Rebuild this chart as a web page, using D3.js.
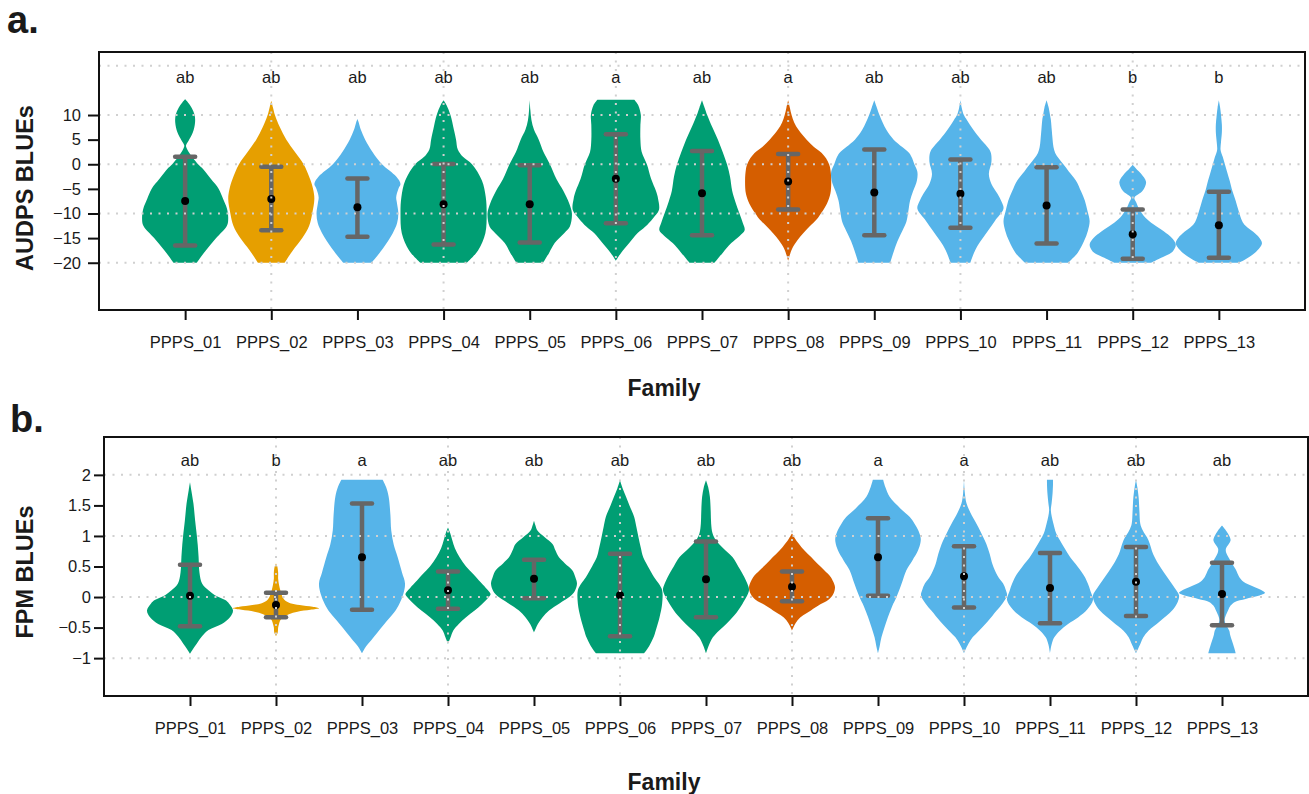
<!DOCTYPE html>
<html><head><meta charset="utf-8">
<script src="https://cdn.jsdelivr.net/npm/d3@7"></script>
<style>
body{margin:0;background:#fff}
text{font-family:"Liberation Sans",Arial,Helvetica,sans-serif}
</style>
</head><body>
<svg id="chart" width="1309" height="794"></svg>
<script>
// ---------- data ----------
const families = ["PPPS_01","PPPS_02","PPPS_03","PPPS_04","PPPS_05","PPPS_06","PPPS_07","PPPS_08","PPPS_09","PPPS_10","PPPS_11","PPPS_12","PPPS_13"];
const familyColors = ["#009E73","#E69F00","#56B4E9","#009E73","#009E73","#009E73","#009E73","#D55E00","#56B4E9","#56B4E9","#56B4E9","#56B4E9","#56B4E9"];

// Panel a: AUDPS BLUEs
const lettersA = ["ab","ab","ab","ab","ab","a","ab","a","ab","ab","ab","b","b"];
const meanA = [-7.45,-7.05,-8.75,-8.1,-8.1,-2.95,-5.9,-3.5,-5.75,-6.0,-8.4,-14.2,-12.4];
const lowA  = [-16.5,-13.4,-14.7,-16.3,-15.9,-12.0,-14.4,-9.2,-14.4,-12.9,-16.1,-19.2,-19.0];
const highA = [1.5,-0.5,-2.9,0.05,-0.2,6.1,2.7,2.1,3.0,0.96,-0.6,-9.2,-5.6];
const yTicksA = [-20,-15,-10,-5,0,5,10];
const yGridA = [-20,-10,0,10,20];
// violin density profiles: [value, relative half-width]
const violinA = [
 [[-20,0.27],[-17.5,0.48],[-15,0.72],[-12.5,0.97],[-11,1],[-9,0.97],[-7,0.88],[-5,0.78],[-3,0.6],[-1,0.42],[0,0.3],[1.5,0.16],[3,0.05],[3.8,0.02],[4.8,0.08],[6.5,0.18],[8.5,0.23],[10,0.22],[11.5,0.15],[12.5,0.07],[13.2,0]],
 [[-20,0.31],[-17.5,0.5],[-15,0.72],[-12.5,0.88],[-10,0.95],[-7,1],[-5,0.97],[-3,0.9],[0,0.75],[2.5,0.55],[5,0.35],[7.5,0.2],[10,0.085],[11.5,0.04],[12.9,0]],
 [[-20,0.33],[-17,0.6],[-14,0.82],[-12,0.92],[-10,0.95],[-8,0.92],[-6.7,0.9],[-5,0.95],[-4,1],[-2.5,0.9],[0,0.57],[2.5,0.35],[5,0.18],[7,0.08],[8.5,0.03],[9.2,0]],
 [[-20,0.54],[-17.5,0.8],[-14,0.97],[-10,1],[-6.7,0.98],[-3.3,0.89],[0,0.66],[1.5,0.45],[3,0.33],[5,0.29],[7,0.24],[10,0.16],[12,0.07],[13,0]],
 [[-20,0.31],[-18,0.45],[-16,0.58],[-14,0.8],[-12.7,0.93],[-10,0.98],[-8,0.92],[-5.4,0.78],[-3,0.62],[0,0.47],[2.5,0.32],[5,0.21],[7,0.1],[9,0.04],[11,0.015],[13,0]],
 [[-19.6,0],[-18,0.12],[-16,0.31],[-14,0.5],[-12.7,0.68],[-11,0.86],[-9.3,1],[-7,0.98],[-5.4,0.93],[-3,0.82],[0,0.72],[2.5,0.6],[5,0.57],[8,0.57],[10,0.58],[12,0.52],[13.1,0.43]],
 [[-20,0.29],[-18,0.48],[-16,0.68],[-14.5,0.88],[-13.4,0.99],[-12,0.95],[-10,0.87],[-7.5,0.77],[-5.4,0.7],[-2.5,0.65],[0,0.58],[2.5,0.48],[5,0.37],[7.5,0.24],[10,0.12],[11.5,0.06],[13,0]],
 [[-19.6,0],[-18.1,0.05],[-17,0.1],[-15.4,0.22],[-14,0.35],[-12.7,0.49],[-11,0.68],[-10,0.76],[-8,0.9],[-6,0.98],[-3.3,1],[-1,0.98],[0,0.95],[1.2,0.88],[2.3,0.78],[3.5,0.6],[5,0.43],[7,0.24],[8.5,0.14],[10,0.08],[11.5,0.04],[13,0]],
 [[-20,0.37],[-17.5,0.46],[-15.6,0.54],[-13,0.68],[-11.5,0.75],[-9,0.8],[-7.4,0.83],[-5.5,0.9],[-3.3,0.99],[-1.5,1],[0,0.93],[1.2,0.88],[2.3,0.81],[3.5,0.65],[5,0.45],[7,0.28],[10,0.12],[11.5,0.06],[13,0]],
 [[-20,0.23],[-17.5,0.34],[-15.6,0.47],[-13.5,0.64],[-11.5,0.8],[-9,1],[-7.5,0.95],[-6,0.86],[-4,0.72],[-2,0.66],[0.5,0.72],[2.5,0.7],[4,0.58],[5.1,0.47],[7,0.3],[9,0.15],[10,0.08],[11.5,0.03],[13,0]],
 [[-20,0.5],[-18,0.72],[-15.6,0.87],[-13.5,0.96],[-11.5,1],[-9.5,0.95],[-7.4,0.89],[-5.5,0.8],[-3.3,0.68],[-1.5,0.52],[0,0.39],[1.2,0.28],[2.3,0.2],[3.5,0.16],[5,0.14],[7,0.12],[9,0.1],[10,0.08],[11.5,0.05],[13,0]],
 [[-20,0.43],[-19,0.66],[-17.7,0.93],[-16.3,1],[-15,0.91],[-13.6,0.72],[-12.2,0.48],[-10.8,0.29],[-9.1,0.15],[-7.7,0.08],[-6.8,0.04],[-5.4,0.23],[-3.6,0.31],[-1.9,0.19],[-0.9,0.08],[-0.1,0]],
 [[-20,0.47],[-18.2,0.81],[-16.1,1],[-14.8,0.93],[-14.1,0.85],[-12.5,0.62],[-11.5,0.54],[-9.5,0.46],[-7.4,0.39],[-5,0.3],[-3.3,0.25],[-1.5,0.19],[0,0.14],[1.5,0.09],[2.9,0.04],[4.5,0.05],[6.5,0.07],[8,0.07],[10,0.05],[11.5,0.03],[13,0]]
];

// Panel b: FPM BLUEs
const lettersB = ["ab","b","a","ab","ab","ab","ab","ab","a","a","ab","ab","ab"];
const meanB = [0.02,-0.13,0.65,0.11,0.3,0.03,0.29,0.17,0.65,0.34,0.15,0.25,0.05];
const lowB  = [-0.48,-0.33,-0.21,-0.19,-0.02,-0.64,-0.33,-0.07,0.02,-0.17,-0.43,-0.31,-0.46];
const highB = [0.53,0.07,1.53,0.42,0.61,0.71,0.91,0.42,1.29,0.83,0.72,0.82,0.56];
const yTicksB = [-1,-0.5,0,0.5,1,1.5,2];
const yGridB = [-1,0,1,2];
const violinB = [
 [[-0.93,0],[-0.85,0.07],[-0.76,0.16],[-0.65,0.27],[-0.54,0.43],[-0.44,0.74],[-0.33,0.93],[-0.22,1],[-0.11,0.91],[-0.05,0.82],[0.03,0.58],[0.11,0.43],[0.22,0.28],[0.4,0.22],[0.65,0.2],[0.85,0.18],[1.0,0.16],[1.25,0.12],[1.53,0.08],[1.75,0.03],[1.88,0]],
 [[-0.64,0],[-0.58,0.04],[-0.5,0.05],[-0.44,0.07],[-0.38,0.1],[-0.33,0.16],[-0.28,0.3],[-0.24,0.5],[-0.21,0.8],[-0.185,1],[-0.16,0.85],[-0.13,0.55],[-0.1,0.33],[-0.05,0.2],[0.02,0.14],[0.11,0.1],[0.2,0.07],[0.3,0.05],[0.4,0.05],[0.5,0.03],[0.55,0]],
 [[-0.92,0],[-0.8,0.1],[-0.71,0.21],[-0.58,0.36],[-0.44,0.52],[-0.25,0.75],[-0.11,0.87],[0.05,0.96],[0.22,1],[0.4,0.93],[0.65,0.83],[0.85,0.74],[1.09,0.68],[1.35,0.66],[1.64,0.62],[1.8,0.56],[1.92,0.48]],
 [[-0.77,0],[-0.66,0.06],[-0.55,0.12],[-0.44,0.25],[-0.33,0.42],[-0.22,0.62],[-0.11,0.8],[0,0.95],[0.05,0.99],[0.15,0.88],[0.27,0.72],[0.38,0.58],[0.5,0.42],[0.65,0.27],[0.8,0.16],[0.93,0.1],[1.05,0.05],[1.14,0]],
 [[-0.58,0],[-0.5,0.05],[-0.44,0.09],[-0.33,0.2],[-0.22,0.35],[-0.1,0.6],[0,0.82],[0.1,0.95],[0.22,1],[0.33,0.96],[0.44,0.89],[0.55,0.72],[0.65,0.58],[0.76,0.5],[0.87,0.43],[0.98,0.25],[1.09,0.08],[1.18,0.03],[1.25,0]],
 [[-0.92,0.56],[-0.8,0.68],[-0.66,0.78],[-0.55,0.83],[-0.33,0.92],[-0.11,0.98],[0.11,0.98],[0.22,0.9],[0.33,0.79],[0.5,0.65],[0.65,0.54],[0.82,0.48],[0.98,0.43],[1.15,0.38],[1.31,0.33],[1.5,0.22],[1.64,0.14],[1.78,0.06],[1.91,0]],
 [[-0.92,0],[-0.8,0.06],[-0.66,0.16],[-0.55,0.3],[-0.44,0.47],[-0.3,0.66],[-0.11,0.85],[0.11,1],[0.22,0.96],[0.33,0.89],[0.5,0.75],[0.65,0.62],[0.8,0.4],[0.93,0.23],[1.05,0.15],[1.2,0.12],[1.4,0.11],[1.64,0.09],[1.8,0.05],[1.91,0]],
 [[-0.55,0],[-0.47,0.05],[-0.38,0.13],[-0.3,0.26],[-0.22,0.44],[-0.12,0.66],[-0.05,0.84],[0.05,0.96],[0.16,1],[0.25,0.96],[0.33,0.9],[0.44,0.75],[0.54,0.6],[0.65,0.45],[0.76,0.29],[0.88,0.15],[0.96,0.07],[1.04,0]],
 [[-0.92,0],[-0.8,0.04],[-0.66,0.08],[-0.5,0.15],[-0.33,0.23],[-0.15,0.33],[0,0.43],[0.22,0.55],[0.44,0.66],[0.6,0.8],[0.76,0.93],[0.9,0.99],[0.98,0.99],[1.1,0.93],[1.2,0.85],[1.31,0.74],[1.45,0.52],[1.64,0.27],[1.8,0.17],[1.92,0.12]],
 [[-0.92,0],[-0.77,0.1],[-0.66,0.2],[-0.55,0.35],[-0.4,0.55],[-0.22,0.76],[-0.1,0.9],[0.03,1],[0.12,0.97],[0.22,0.91],[0.35,0.78],[0.54,0.66],[0.7,0.6],[0.87,0.52],[1.05,0.4],[1.2,0.29],[1.38,0.15],[1.53,0.06],[1.7,0.02],[1.91,0]],
 [[-0.92,0],[-0.77,0.04],[-0.66,0.1],[-0.55,0.23],[-0.44,0.42],[-0.33,0.66],[-0.2,0.87],[-0.05,1],[0.1,0.94],[0.22,0.88],[0.33,0.81],[0.5,0.64],[0.65,0.47],[0.8,0.34],[0.93,0.23],[1.05,0.14],[1.2,0.08],[1.32,0.04],[1.42,0.02],[1.55,0.04],[1.7,0.06],[1.85,0.07],[1.92,0.07]],
 [[-0.92,0],[-0.77,0.1],[-0.66,0.17],[-0.55,0.29],[-0.4,0.55],[-0.22,0.84],[-0.08,0.97],[0.03,1],[0.15,0.9],[0.27,0.78],[0.4,0.65],[0.54,0.52],[0.7,0.4],[0.93,0.29],[1.1,0.15],[1.2,0.1],[1.4,0.08],[1.64,0.06],[1.8,0.03],[1.92,0]],
 [[-0.92,0.32],[-0.82,0.28],[-0.71,0.23],[-0.62,0.19],[-0.55,0.17],[-0.46,0.1],[-0.38,0.06],[-0.3,0.09],[-0.22,0.14],[-0.14,0.2],[-0.08,0.3],[-0.03,0.55],[0.02,0.85],[0.07,1],[0.1,0.95],[0.18,0.7],[0.25,0.5],[0.33,0.4],[0.45,0.32],[0.54,0.24],[0.65,0.15],[0.72,0.1],[0.79,0.09],[0.86,0.15],[0.93,0.2],[1.0,0.17],[1.08,0.1],[1.17,0]]
];

// ---------- drawing ----------
const svg = d3.select("#chart");
const GRID = "#d0d0d0";

function drawPanel(p) {
  const g = svg.append("g");
  const x = d3.scalePoint().domain(families).range([p.left, p.right]).padding(1);
  const y = d3.scaleLinear().domain(p.yDomain).range([p.bottom, p.top]);
  const half = x.step() / 2;

  // violins
  families.forEach((f, i) => {
    const cx = x(f);
    const area = d3.area()
      .curve(d3.curveCatmullRom.alpha(0.5))
      .y(d => y(d[0]))
      .x0(d => cx - d[1] * half)
      .x1(d => cx + d[1] * half);
    g.append("path").datum(p.violins[i]).attr("d", area).attr("fill", familyColors[i]);
  });

  // error bars
  families.forEach((f, i) => {
    const cx = x(f);
    const eb = g.append("g").attr("stroke", "#666666").attr("stroke-width", 4.5);
    eb.append("line").attr("x1", cx).attr("x2", cx).attr("y1", y(p.low[i])).attr("y2", y(p.high[i]));
    [p.low[i], p.high[i]].forEach(v => {
      eb.append("line").attr("x1", cx - 10).attr("x2", cx + 10).attr("y1", y(v)).attr("y2", y(v))
        .attr("stroke-linecap", "round");
    });
    g.append("circle").attr("cx", cx).attr("cy", y(p.mean[i])).attr("r", 4).attr("fill", "#000");
  });

  // grid (drawn over the marks)
  const grid = g.append("g").attr("stroke", GRID).attr("stroke-width", 2).attr("stroke-dasharray", "2,6.5");
  p.yGrid.forEach(v => {
    grid.append("line").attr("x1", p.left).attr("x2", p.right).attr("y1", y(v)).attr("y2", y(v));
  });
  families.forEach((f, i) => {
    if (i % 2 === 1) {
      grid.append("line").attr("x1", x(f)).attr("x2", x(f)).attr("y1", p.top).attr("y2", p.bottom);
    }
  });

  // significance letters
  families.forEach((f, i) => {
    g.append("text").attr("x", x(f)).attr("y", y(p.letterY)).attr("text-anchor", "middle")
      .attr("font-size", 16.5).attr("fill", "#1a1a1a").text(p.letters[i]);
  });

  // frame
  g.append("rect").attr("x", p.left).attr("y", p.top).attr("width", p.right - p.left)
    .attr("height", p.bottom - p.top).attr("fill", "none").attr("stroke", "#111").attr("stroke-width", 2);

  // x axis
  const xa = g.append("g").attr("transform", `translate(0,${p.bottom})`)
    .call(d3.axisBottom(x).tickSize(10).tickPadding(16));
  xa.select(".domain").remove();
  xa.selectAll("line").attr("stroke", "#111").attr("stroke-width", 2);
  xa.selectAll("text").attr("font-size", 16.5).attr("fill", "#1a1a1a")
    .attr("font-family", '"Liberation Sans",Arial,Helvetica,sans-serif');

  // y axis
  const ya = g.append("g").attr("transform", `translate(${p.left},0)`)
    .call(d3.axisLeft(y).tickValues(p.yTicks).tickFormat(d3.format("~g")).tickSize(p.yTickSize).tickPadding(p.yTickPad));
  ya.select(".domain").remove();
  ya.selectAll("line").attr("stroke", "#111").attr("stroke-width", 2);
  ya.selectAll("text").attr("font-size", 16.5).attr("fill", "#1a1a1a")
    .attr("font-family", '"Liberation Sans",Arial,Helvetica,sans-serif');

  // titles
  svg.append("text").attr("transform", `translate(${p.yTitleX},${p.yTitleY}) rotate(-90)`)
    .attr("text-anchor", "middle").attr("font-size", 23.5).attr("font-weight", "bold").attr("fill", "#1a1a1a")
    .text(p.yTitle);
  svg.append("text").attr("x", 664).attr("y", p.xTitleY).attr("text-anchor", "middle")
    .attr("font-size", 23).attr("font-weight", "bold").attr("fill", "#1a1a1a").text("Family");
  svg.append("text").attr("x", p.tagX).attr("y", p.tagY).attr("font-size", 38).attr("font-weight", "bold")
    .attr("fill", "#1a1a1a").text(p.tag);
}

drawPanel({
  left: 99, right: 1305, top: 52, bottom: 310,
  yDomain: [-29.6, 22.8], yTicks: yTicksA, yGrid: yGridA, yTickSize: 11, yTickPad: 7,
  violins: violinA, mean: meanA, low: lowA, high: highA, letters: lettersA, letterY: 16.6,
  yTitle: "AUDPS BLUEs", yTitleX: 33, yTitleY: 188, xTitleY: 396,
  tag: "a.", tagX: 7, tagY: 33
});
drawPanel({
  left: 104, right: 1308, top: 437, bottom: 696,
  yDomain: [-1.62, 2.62], yTicks: yTicksB, yGrid: yGridB, yTickSize: 10, yTickPad: 3,
  violins: violinB, mean: meanB, low: lowB, high: highB, letters: lettersB, letterY: 2.14,
  yTitle: "FPM BLUEs", yTitleX: 33, yTitleY: 572, xTitleY: 790,
  tag: "b.", tagX: 10, tagY: 432
});
</script>
</body></html>
